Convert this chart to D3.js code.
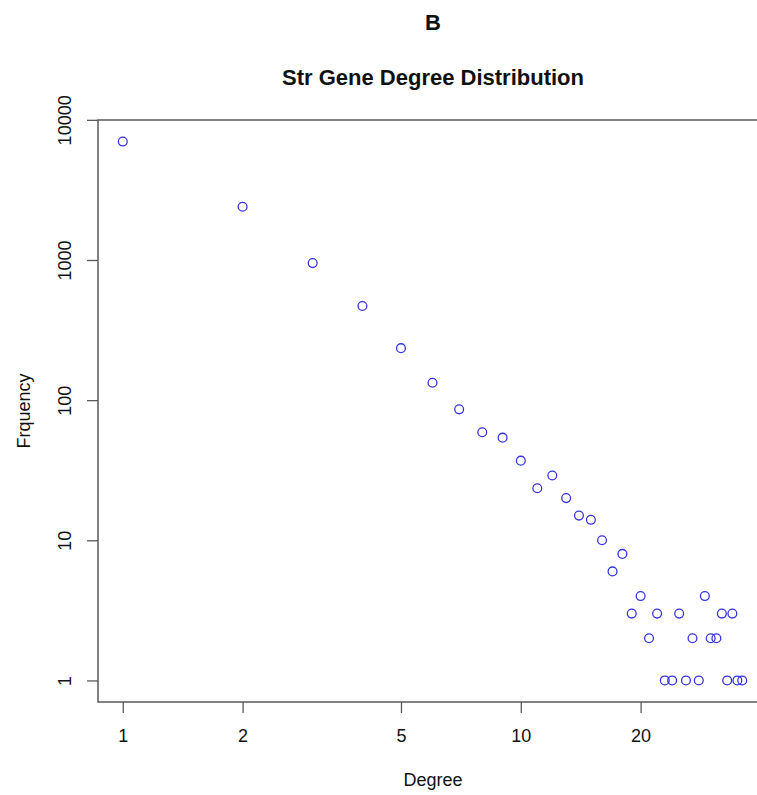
<!DOCTYPE html>
<html>
<head>
<meta charset="utf-8">
<script src="https://cdn.jsdelivr.net/npm/d3@7/dist/d3.min.js"></script>
<style>
  html, body { margin: 0; padding: 0; background: #fff; }
  svg { display: block; }
  text { font-family: "Liberation Sans", Arial, Helvetica, sans-serif; fill: #111; }
</style>
</head>
<body>
<svg id="chart" width="757" height="795"></svg>
<script>
// ---- data ----
const degrees = [1,2,3,4,5,6,7,8,9,10,11,12,13,14,15,16,17,18,19,20,21,22,23,24,25,26,27,28,29,30,31,32,33,34,35,36];
const frequency = [7000,2400,950,470,235,133,86,59,54,37,23.5,29,20,15,14,10,6,8,3,4,2,3,1,1,3,1,2,1,4,2,2,3,1,3,1,1];
const xTicks = [1,2,5,10,20];
const yTicks = [1,10,100,1000,10000];
const panelLabel = "B";
const title = "Str Gene Degree Distribution";
const xLabel = "Degree";
const yLabel = "Frquency";

// ---- layout ----
const W = 757, H = 795;
const plot = { left: 98, right: 767, top: 120, bottom: 702 };

const svg = d3.select("#chart");

// R-style 4% extension in log space
function extLog(vals) {
  const lo = Math.log10(d3.min(vals)), hi = Math.log10(d3.max(vals));
  const pad = (hi - lo) * 0.04;
  return [Math.pow(10, lo - pad), Math.pow(10, hi + pad)];
}

const x = d3.scaleLog().domain(extLog(degrees)).range([plot.left, plot.right]);
const y = d3.scaleLog().domain(extLog(frequency)).range([plot.bottom, plot.top]);

const axisColor = "#5a5a5a";

// box
svg.append("rect")
  .attr("x", plot.left).attr("y", plot.top)
  .attr("width", plot.right - plot.left).attr("height", plot.bottom - plot.top)
  .attr("fill", "none").attr("stroke", axisColor).attr("stroke-width", 1.5);

// x axis
const xAxis = d3.axisBottom(x).tickValues(xTicks).tickFormat(d3.format("d")).tickSize(11).tickPadding(0);
const gx = svg.append("g").attr("transform", `translate(0,${plot.bottom})`).call(xAxis);
gx.select(".domain").remove();
gx.selectAll(".tick line").attr("stroke", axisColor).attr("stroke-width", 1.3);
gx.selectAll(".tick text")
  .attr("y", 34).attr("dy", "0.35em")
  .attr("font-size", 18).attr("fill", "#111")
  .style("font-family", '"Liberation Sans", Arial, sans-serif');

// y axis
const yAxis = d3.axisLeft(y).tickValues(yTicks).tickFormat(d3.format("d")).tickSize(11).tickPadding(0);
const gy = svg.append("g").attr("transform", `translate(${plot.left},0)`).call(yAxis);
gy.select(".domain").remove();
gy.selectAll(".tick line").attr("stroke", axisColor).attr("stroke-width", 1.3);
gy.selectAll(".tick text")
  .attr("x", 0).attr("y", 0).attr("dy", null)
  .attr("text-anchor", "middle")
  .attr("dominant-baseline", "central")
  .attr("transform", "translate(-33,0) rotate(-90)")
  .attr("font-size", 18).attr("fill", "#111")
  .style("font-family", '"Liberation Sans", Arial, sans-serif');

// points
svg.append("g").selectAll("circle")
  .data(degrees.map((d, i) => ({ d, f: frequency[i] })))
  .join("circle")
  .attr("cx", p => x(p.d))
  .attr("cy", p => y(p.f))
  .attr("r", 4.4)
  .attr("fill", "none")
  .attr("stroke", "#3434e0")
  .attr("stroke-width", 1.3);

// texts
svg.append("text").attr("x", 433).attr("y", 22).attr("text-anchor", "middle")
  .attr("dominant-baseline", "central").attr("font-size", 22).attr("font-weight", "bold")
  .text(panelLabel);
svg.append("text").attr("x", 433).attr("y", 77).attr("text-anchor", "middle")
  .attr("dominant-baseline", "central").attr("font-size", 22).attr("font-weight", "bold")
  .text(title);
svg.append("text").attr("x", 433).attr("y", 780).attr("text-anchor", "middle")
  .attr("dominant-baseline", "central").attr("font-size", 18)
  .text(xLabel);
svg.append("text").attr("text-anchor", "middle")
  .attr("dominant-baseline", "central").attr("font-size", 18)
  .attr("transform", `translate(24,${(plot.top + plot.bottom) / 2}) rotate(-90)`)
  .text(yLabel);
</script>
</body>
</html>
